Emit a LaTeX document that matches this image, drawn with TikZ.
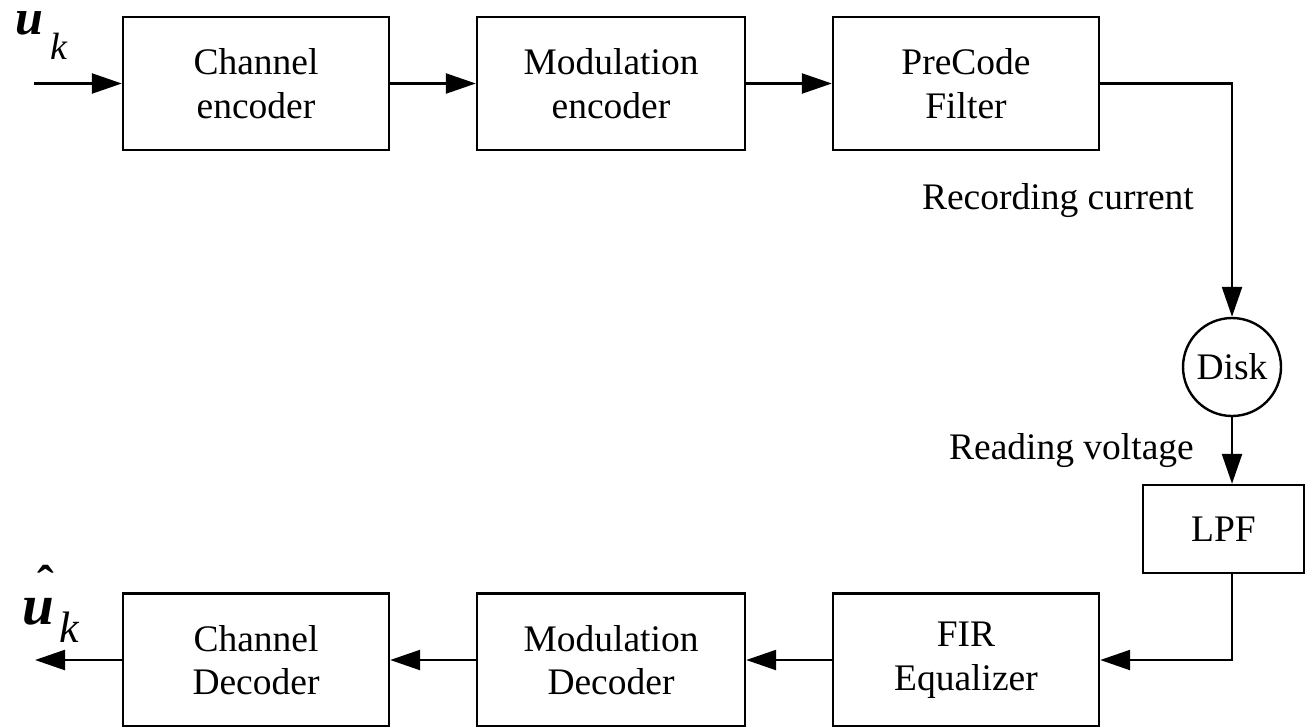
\documentclass[tikz,border=0pt]{standalone}
\usepackage{fontspec}
\setmainfont{Liberation Serif}
\usetikzlibrary{arrows.meta,calc}
\begin{document}
\begin{tikzpicture}[x=1pt,y=-1pt,
  line width=2.4pt,
  blk/.style={draw, rectangle, minimum width=266pt, minimum height=133pt, inner sep=0pt, align=center, font=\fontsize{37.5}{43.5}\selectfont},
  lbl/.style={inner sep=0pt, font=\fontsize{37.5}{43.5}\selectfont},
  sym/.style={inner sep=0pt, anchor=base west, text depth=0pt},
  arr/.style={-{Triangle[length=30pt,width=20pt]}}
]
\useasboundingbox (0,0) rectangle (1305,726);
% top row
\node[blk] (chenc) at (256,83.5) {Channel\\encoder};
\node[blk, minimum width=268pt] (modenc) at (611,83.5) {Modulation\\encoder};
\node[blk] (pre) at (966,83.5) {PreCode\\Filter};
% disk and LPF
\node[draw, circle, minimum size=98pt, inner sep=0pt, lbl] (disk) at (1232,367) {Disk};
\node[blk, minimum width=161pt, minimum height=88pt] (lpf) at (1223.5,529) {LPF};
% bottom row
\node[blk] (fir) at (966,660) {FIR\\Equalizer};
\node[blk, minimum width=268pt] (moddec) at (611,660) {Modulation\\Decoder};
\node[blk] (chdec) at (256,660) {Channel\\Decoder};
% labels
\node[lbl, anchor=base east] (rec) at (1195,209) {Recording current};
\node[lbl, anchor=base east] (rdv) at (1195,459) {Reading voltage};
\node[sym, text height=24pt] (u1) at (14,34) {\fontsize{50}{50}\selectfont\bfseries\itshape u};
\node[sym, text height=27pt] (k1) at (49,59) {\fontsize{38}{38}\selectfont\itshape k};
\node[sym, text height=27pt] (u2) at (21,624) {\fontsize{57}{57}\selectfont\bfseries\itshape u};
\node[sym, text height=20pt] (h2) at (36,600) {\fontsize{50}{50}\selectfont\bfseries ˆ};
\node[sym, text height=32pt] (k2) at (58,642) {\fontsize{44}{44}\selectfont\itshape k};
% connectors
\coordinate (in) at (34,83.5);
\coordinate (out) at (35,660);
\draw[arr] (in) -- (chenc.west);
\draw[arr] (chenc.east) -- (modenc.west);
\draw[arr] (modenc.east) -- (pre.west);
\draw[arr] (pre.east) -| (disk.north);
\draw[arr] (disk.south) -- (disk.south |- lpf.north);
\draw[arr] (disk.south |- lpf.south) |- (fir.east);
\draw[arr] (fir.west) -- (moddec.east);
\draw[arr] (moddec.west) -- (chdec.east);
\draw[arr] (chdec.west) -- (out);
\end{tikzpicture}
\end{document}
